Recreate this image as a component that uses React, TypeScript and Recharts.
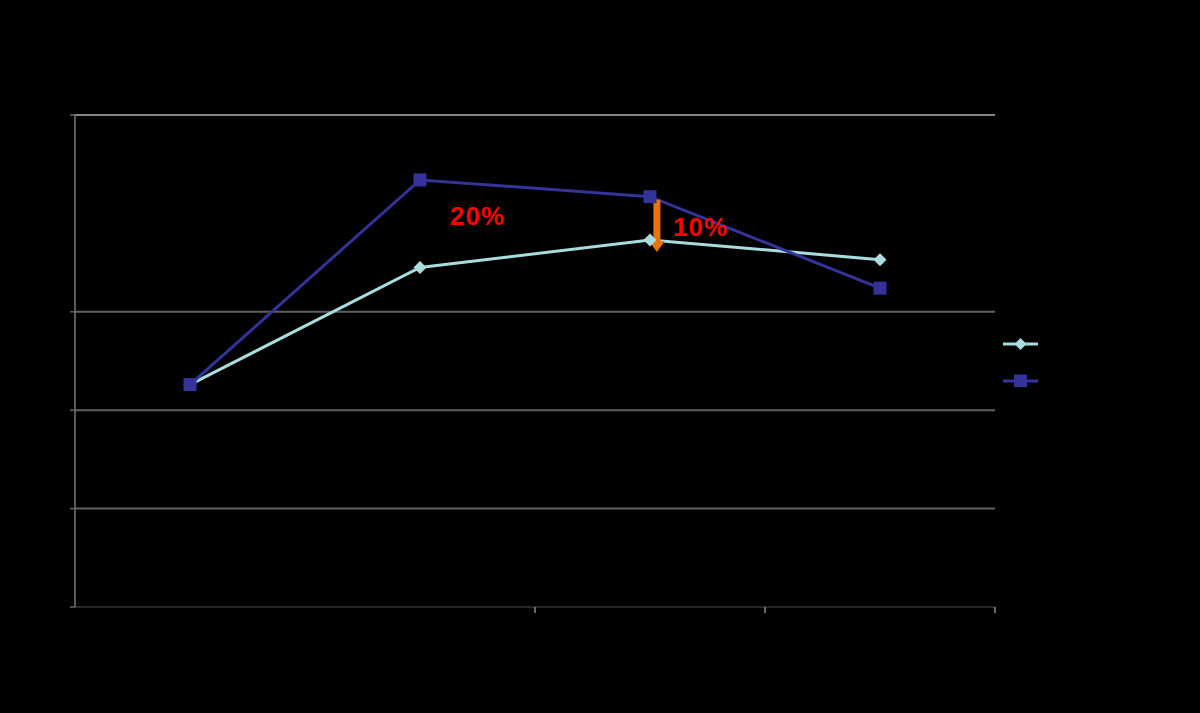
import React from 'react';
import { LineChart, Line, XAxis, YAxis, ReferenceLine, ReferenceDot, Legend } from 'recharts';

const categories = ['1', '2', '3', '4'];
const seriesA = [2.26, 3.45, 3.73, 3.53];
const seriesB = [2.26, 4.34, 4.17, 3.24];
const seriesNames = ['Series 1', 'Series 2'];
const yTicks = [0, 1, 2, 3, 5];
const gridValues = [1, 2, 3];
const xTicks = [2.5, 3.5, 4.5];
const annotations = [
  { x: 2.25, y: 3.97, text: '20%' },
  { x: 3.22, y: 3.86, text: '10%' },
];
const arrowX = 3.03;

const data = categories.map((c, i) => ({ x: i + 1, name: c, a: seriesA[i], b: seriesB[i] }));

const COLOR_A = '#A9DCDC';
const COLOR_B = '#333399';

const DiamondDot = (props: any) => {
  const { cx, cy } = props;
  if (cx == null || cy == null) return null;
  const r = 6.5;
  return <polygon points={`${cx},${cy - r} ${cx + r},${cy} ${cx},${cy + r} ${cx - r},${cy}`} fill={COLOR_A} />;
};

const SquareDot = (props: any) => {
  const { cx, cy } = props;
  if (cx == null || cy == null) return null;
  const s = 13;
  return <rect x={cx - s / 2} y={cy - s / 2} width={s} height={s} fill={COLOR_B} />;
};

const Arrow = (props: any) => {
  const { x1, y1, y2 } = props;
  if (x1 == null || y1 == null || y2 == null) return null;
  const top = y1 + 3;
  const headStart = y2 + 1;
  const tip = y2 + 12;
  const w = 7;
  const hw = 8;
  return (
    <g>
      <rect x={x1 - w / 2} y={top} width={w} height={headStart - top} fill="#E8720C" />
      <polygon points={`${x1 - hw},${headStart} ${x1 + hw},${headStart} ${x1},${tip}`} fill="#E8720C" />
    </g>
  );
};

const AnnotationLabel = (text: string) => (props: any) => {
  const { viewBox } = props;
  const cx = viewBox.cx ?? viewBox.x;
  const cy = viewBox.cy ?? viewBox.y;
  return (
    <text x={cx} y={cy} dy={9} textAnchor="middle" fill="#FF0000" fontFamily="Liberation Sans, Arial, sans-serif" fontWeight="bold" fontSize={26} letterSpacing={1}>
      {text}
    </text>
  );
};

const LegendContent = () => (
  <div style={{ width: 120, height: 60, position: 'relative' }}>
    <svg width={120} height={60}>
      <line x1={8} x2={43} y1={17} y2={17} stroke={COLOR_A} strokeWidth={3} />
      <polygon points="25.5,11 31.5,17 25.5,23 19.5,17" fill={COLOR_A} />
      <line x1={8} x2={43} y1={54} y2={54} stroke={COLOR_B} strokeWidth={3} />
      <rect x={19} y={47.5} width={13} height={13} fill={COLOR_B} />
      <text x={50} y={21} fill="#000" fontSize={12} fontFamily="Liberation Sans, Arial, sans-serif">{seriesNames[0]}</text>
      <text x={50} y={58} fill="#000" fontSize={12} fontFamily="Liberation Sans, Arial, sans-serif">{seriesNames[1]}</text>
    </svg>
  </div>
);

export default function App() {
  return (
    <div style={{ position: 'absolute', left: 0, top: 0, width: 1200, height: 713, background: '#000' }}>
      <LineChart width={1200} height={713} data={data} margin={{ top: 115, right: 85, bottom: 76, left: 35 }}>
        <XAxis
          dataKey="x"
          type="number"
          domain={[0.5, 4.5]}
          ticks={xTicks}
          axisLine={{ stroke: '#333333', strokeWidth: 1.5 }}
          tickLine={{ stroke: '#8a8a8a', strokeWidth: 1.5 }}
          tickSize={6}
          tick={{ fill: '#000' }}
          height={30}
        />
        <YAxis
          type="number"
          domain={[0, 5]}
          ticks={yTicks}
          axisLine={{ stroke: '#777777', strokeWidth: 1.5 }}
          tickLine={{ stroke: '#666666', strokeWidth: 1.5 }}
          tickSize={5}
          tick={{ fill: '#000' }}
          width={40}
        />
        {gridValues.map((v) => (
          <ReferenceLine key={v} y={v} stroke="#606060" strokeWidth={2} />
        ))}
        <ReferenceLine y={5} stroke="#858585" strokeWidth={2} />
        <Legend layout="vertical" align="right" verticalAlign="middle" content={<LegendContent />} />
        <Line dataKey="a" name={seriesNames[0]} stroke={COLOR_A} strokeWidth={3} dot={<DiamondDot />} activeDot={false} isAnimationActive={false} />
        <Line dataKey="b" name={seriesNames[1]} stroke={COLOR_B} strokeWidth={3} dot={<SquareDot />} activeDot={false} isAnimationActive={false} />
        <ReferenceLine segment={[{ x: arrowX, y: seriesB[2] }, { x: arrowX, y: seriesA[2] }]} shape={<Arrow />} />
        {annotations.map((a) => (
          <ReferenceDot key={a.text} x={a.x} y={a.y} r={0} fill="none" stroke="none" label={AnnotationLabel(a.text)} />
        ))}
      </LineChart>
    </div>
  );
}
